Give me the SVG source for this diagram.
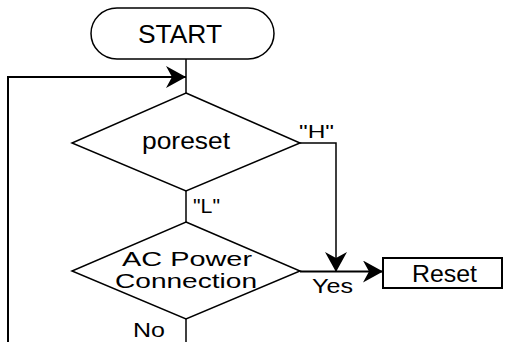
<svg xmlns="http://www.w3.org/2000/svg" width="505" height="342" viewBox="0 0 505 342">
<defs>
<style>
.shape{fill:#fff;stroke:#000;stroke-width:1.5}
.box{fill:#fff;stroke:#000;stroke-width:2}
.conn{fill:none;stroke:#000;stroke-width:2}
.thin{fill:none;stroke:#000;stroke-width:1.5}
text{font-family:"Liberation Sans",Arial,sans-serif;fill:#000}
</style>
<marker id="arr" markerUnits="userSpaceOnUse" markerWidth="20" markerHeight="22" refX="20" refY="11" orient="auto" viewBox="0 0 20 22">
<path d="M0,0 L20,11 L0,22 L6,11 Z" fill="#000"/>
</marker>
</defs>
<g id="connectors">
<line class="thin" x1="186" y1="59" x2="186" y2="93"/>
<polyline class="conn" points="8,342 8,77 186,77" marker-end="url(#arr)"/>
<line class="thin" x1="186" y1="191" x2="186" y2="222"/>
<polyline class="thin" points="300,143 336,143 336,272" marker-end="url(#arr)"/>
<line class="conn" x1="300" y1="271.5" x2="383" y2="271.5" marker-end="url(#arr)"/>
<line class="thin" x1="186" y1="319" x2="186" y2="342"/>
<text x="299" y="138" font-size="18" textLength="35" lengthAdjust="spacingAndGlyphs">"H"</text>
<text x="193" y="213" font-size="21" textLength="27" lengthAdjust="spacingAndGlyphs">"L"</text>
<text x="312" y="293" font-size="21" textLength="41" lengthAdjust="spacingAndGlyphs">Yes</text>
<text x="133" y="337" font-size="21" textLength="32" lengthAdjust="spacingAndGlyphs">No</text>
</g>
<g id="start">
<rect class="shape" x="91" y="8" width="183" height="51" rx="26" ry="25.5"/>
<text x="138" y="43" font-size="25" textLength="84" lengthAdjust="spacingAndGlyphs">START</text>
</g>
<g id="poreset">
<polygon class="shape" points="186,93 300,143 186,191 72,143"/>
<text x="142" y="149" font-size="24" textLength="88" lengthAdjust="spacingAndGlyphs">poreset</text>
</g>
<g id="ac-power">
<polygon class="shape" points="186,222 300,271 186,319 72,271"/>
<text x="122" y="266" font-size="21" textLength="130" lengthAdjust="spacingAndGlyphs">AC  Power</text>
<text x="115" y="288" font-size="21" textLength="142" lengthAdjust="spacingAndGlyphs">Connection</text>
</g>
<g id="reset">
<rect class="box" x="383" y="258" width="119" height="30"/>
<text x="412" y="282" font-size="24" textLength="65" lengthAdjust="spacingAndGlyphs">Reset</text>
</g>
</svg>
